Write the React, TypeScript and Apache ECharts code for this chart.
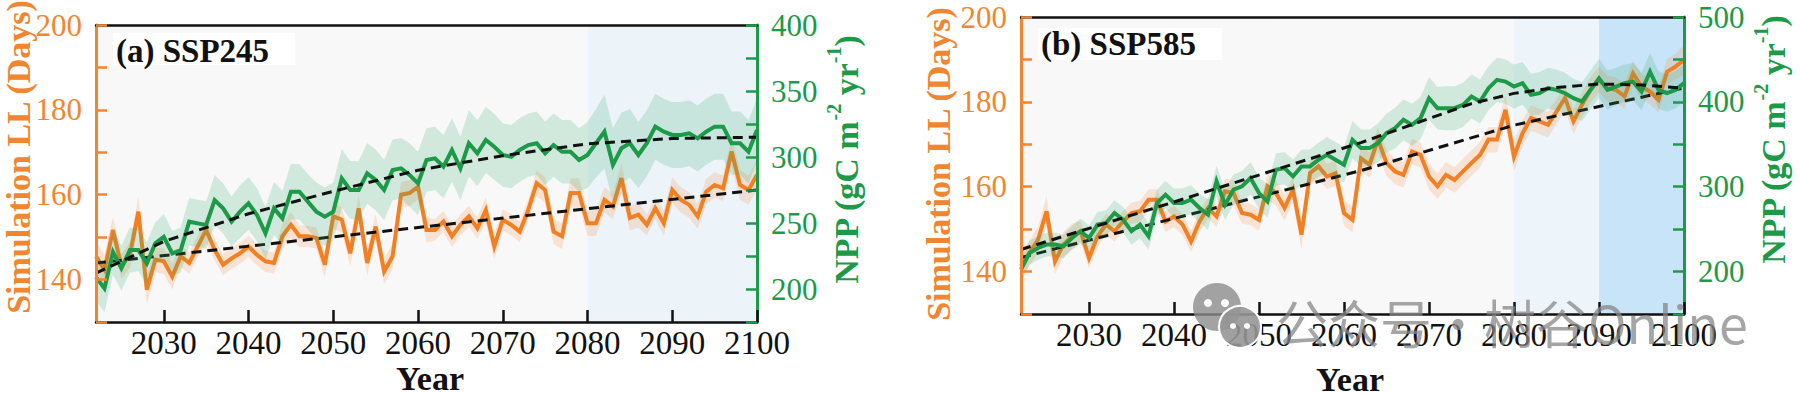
import React, { useEffect, useRef } from 'react';
import * as echarts from 'echarts';

// ---------------- data ----------------
const YEARS = [
  2022, 2023, 2024, 2025, 2026, 2027, 2028, 2029, 2030, 2031,
  2032, 2033, 2034, 2035, 2036, 2037, 2038, 2039, 2040, 2041,
  2042, 2043, 2044, 2045, 2046, 2047, 2048, 2049, 2050, 2051,
  2052, 2053, 2054, 2055, 2056, 2057, 2058, 2059, 2060, 2061,
  2062, 2063, 2064, 2065, 2066, 2067, 2068, 2069, 2070, 2071,
  2072, 2073, 2074, 2075, 2076, 2077, 2078, 2079, 2080, 2081,
  2082, 2083, 2084, 2085, 2086, 2087, 2088, 2089, 2090, 2091,
  2092, 2093, 2094, 2095, 2096, 2097, 2098, 2099, 2100,
];

const X_TICKS = [2030, 2040, 2050, 2060, 2070, 2080, 2090, 2100];

// (a) SSP245 — simulated LL (days)
const A_LL = [
  145.5, 142.3, 151.7, 143.1, 145.8, 156.0, 137.6, 144.7, 144.3, 140.7,
  145.5, 143.9, 147.8, 151.7, 147.0, 143.5, 145.0, 146.2, 147.8, 145.8,
  144.3, 143.9, 150.2, 152.9, 150.2, 150.2, 149.8, 143.5, 154.9, 154.1,
  146.2, 156.8, 143.9, 152.5, 141.9, 145.5, 160.0, 160.4, 161.9, 151.7,
  151.7, 153.7, 150.2, 152.9, 154.9, 152.1, 156.4, 147.8, 154.1, 152.9,
  151.3, 156.4, 162.7, 161.1, 151.3, 150.2, 160.4, 160.4, 153.3, 153.3,
  158.8, 157.2, 163.9, 154.5, 155.3, 152.9, 156.8, 153.3, 161.1, 158.8,
  157.6, 154.9, 160.7, 162.3, 161.5, 170.2, 162.3, 161.1, 164.7,
];
const A_LL_SPREAD = [
  3.5, 3.5, 3, 3, 3, 3.5, 3.5, 3, 3, 3,
  2.5, 2.5, 2.5, 3, 2.5, 2.5, 2.5, 2.5, 2.5, 2.5,
  2.5, 2.5, 3, 3, 2.5, 2.5, 2.5, 3, 3, 3,
  3, 3, 3, 3, 3, 3, 3, 3, 3, 3,
  2.5, 2.5, 2.5, 2.5, 2.5, 2.5, 3, 3, 2.5, 2.5,
  2.5, 2.5, 3, 3, 3, 3, 3.5, 3.5, 3, 3,
  3, 3, 3.5, 3, 3, 2.5, 2.5, 3, 3, 3,
  3, 3, 3, 3, 3, 3.5, 3.5, 3.5, 3.5,
];
// (a) SSP245 — NPP (gC m-2 yr-1)
const A_NPP = [
  209, 200.5, 228, 215.7, 229.5, 229.5, 219.4, 234.6, 239.6, 227,
  229.5, 251, 249.7, 248.5, 267.4, 261.1, 251, 258.6, 264.9, 256.1,
  242.2, 261.1, 253.5, 273.7, 273.7, 266.2, 258.6, 254.8, 258.6, 283.8,
  275, 275, 287.6, 282.6, 275, 290.2, 291.4, 286.4, 280, 297.7,
  299, 292.7, 305.3, 291.4, 310.4, 302.8, 312.9, 307.8, 301.5, 300.2,
  305.3, 309, 310.4, 302.8, 309, 304, 304, 297.7, 301.5, 310.4,
  319.2, 294, 306.6, 310.4, 301.5, 310.4, 323, 319.2, 316.7, 316.7,
  317.9, 314.1, 319.2, 323, 323, 310.4, 310.4, 304, 320.5,
];
const A_NPP_SPREAD = [
  18, 18, 17, 17, 17, 16, 16, 16, 17, 17,
  17, 18, 18, 18, 19, 19, 19, 20, 20, 20,
  20, 20, 21, 21, 21, 21, 22, 22, 22, 22,
  22, 22, 23, 23, 23, 23, 23, 24, 24, 24,
  24, 24, 24, 24, 25, 25, 25, 25, 24, 24,
  24, 24, 24, 24, 24, 24, 24, 24, 25, 26,
  28, 28, 27, 26, 25, 25, 25, 25, 25, 25,
  25, 25, 25, 25, 25, 24, 24, 24, 24,
];
const A_LL_TREND_YEARS = [2022, 2100];
const A_LL_TREND = [143.9, 161.1];
const A_NPP_TREND_YEARS = [2022, 2030, 2040, 2050, 2060, 2070, 2080, 2090, 2100];
const A_NPP_TREND = [212, 236, 257, 274, 290, 301, 310, 314, 315];

// (b) SSP585 — simulated LL (days)
const B_LL = [
  141.3, 144.4, 147.5, 154.2, 142.4, 146.4, 148.3, 149.5, 143.2, 148.3,
  151.1, 149.5, 151.8, 153.8, 154.2, 156.9, 156.9, 151.8, 153.0, 151.1,
  147.1, 151.8, 155.0, 153.0, 158.9, 158.5, 153.8, 153.4, 152.2, 160.1,
  158.5, 155.0, 159.3, 148.7, 163.2, 164.8, 162.4, 163.2, 153.8, 152.2,
  166.7, 165.2, 171.1, 165.6, 163.6, 162.8, 168.3, 167.5, 162.4, 160.1,
  162.8, 161.6, 163.6, 165.6, 167.5, 171.1, 171.1, 178.1, 167.1, 172.6,
  176.2, 175.4, 174.6, 177.7, 180.9, 175.4, 179.3, 182.8, 185.2, 183.2,
  182.8, 181.3, 186.7, 183.6, 182.4, 180.5, 187.1, 188.3, 189.9,
];
const B_LL_SPREAD = [
  3, 3, 3, 3.5, 3, 3, 3, 2.5, 2.5, 2.5,
  2.5, 2.5, 2.5, 2.5, 2.5, 2.5, 2.5, 2.5, 2.5, 2.5,
  2.5, 2.5, 2.5, 2.5, 3, 3, 2.5, 2.5, 2.5, 3,
  3, 3, 3, 3.5, 3, 3, 3, 3, 3, 3,
  3, 3, 3, 3, 3, 3, 3, 3, 3, 3,
  3, 3, 3, 3, 3, 3, 3, 3.5, 3.5, 3,
  3, 3, 3, 3, 3, 3, 3, 3, 3, 3,
  3, 3, 3, 3, 3, 3, 3, 3, 3.5,
];
// (b) SSP585 — NPP (gC m-2 yr-1)
const B_NPP = [
  202.4, 222, 227.8, 231.8, 231.8, 229.8, 239.6, 247.5, 239.6, 255.3,
  257.3, 269, 261.2, 247.5, 255.3, 241.6, 280.8, 290.6, 280.8, 280.8,
  284.7, 274.9, 267.1, 306.3, 278.8, 296.5, 300.4, 310.2, 292.5, 282.7,
  320, 322, 312.2, 323.9, 323.9, 331.8, 337.6, 331.8, 325.9, 355.3,
  345.5, 345.5, 351.4, 363.1, 369, 378.8, 372.9, 380.8, 404.3, 392.5,
  392.5, 392.5, 396.5, 406.3, 400.4, 416.1, 425.9, 423.9, 418, 422,
  408.2, 410.2, 416.1, 414.1, 410.2, 404.3, 400.4, 414.1, 427.8, 414.1,
  418, 422, 423.9, 412.2, 435.7, 414.1, 410.2, 414.1, 422,
];
const B_NPP_SPREAD = [
  14, 14, 14, 14, 14, 14, 14, 15, 15, 15,
  15, 15, 15, 16, 16, 16, 16, 16, 17, 17,
  17, 17, 18, 18, 18, 18, 18, 19, 19, 19,
  19, 19, 20, 20, 20, 20, 21, 21, 21, 22,
  22, 22, 23, 23, 24, 24, 25, 25, 25, 25,
  26, 26, 26, 26, 26, 26, 26, 26, 26, 25,
  25, 25, 24, 24, 24, 23, 23, 23, 23, 23,
  22, 22, 22, 22, 22, 22, 22, 22, 22,
];
const B_LL_TREND_YEARS = [2022, 2062, 2080, 2100];
const B_LL_TREND = [143.3, 163.8, 174.5, 183.3];
const B_NPP_TREND_YEARS = [2022, 2040, 2062, 2075, 2080, 2085, 2090, 2095, 2100];
const B_NPP_TREND = [226, 282, 352, 398, 410, 417, 421, 420, 416];

// ---------------- styles ----------------
const SERIF = 'Liberation Serif';
const CJK = 'Noto Sans CJK SC';
const ORANGE = '#F28022';
const ORANGE_TEXT = '#F08630';
const GREEN = '#1C9A48';
const ORANGE_BAND = 'rgba(245,150,80,0.22)';
const GREEN_BAND = 'rgba(55,168,110,0.20)';
const DARK = '#111111';

const pairs = (xs: number[], ys: number[]) => xs.map((x, i) => [x, ys[i]]);

function bandSeries(vals: number[], spread: number[], xi: number, yi: number, color: string, z: number) {
  const data = YEARS.map((y, i) => [y, vals[i] - spread[i], vals[i] + spread[i]]);
  return {
    type: 'custom',
    xAxisIndex: xi,
    yAxisIndex: yi,
    z,
    silent: true,
    clip: true,
    data,
    encode: { x: 0, y: [1, 2] },
    renderItem: (params: any, api: any) => {
      if (params.dataIndex !== 0) return null;
      const upper = data.map((d) => api.coord([d[0], d[2]]));
      const lower = data.map((d) => api.coord([d[0], d[1]])).reverse();
      return {
        type: 'polygon',
        shape: { points: upper.concat(lower) },
        style: { fill: color },
      };
    },
  };
}

function lineSeries(xs: number[], vals: number[], xi: number, yi: number, color: string, z: number) {
  return {
    type: 'line',
    xAxisIndex: xi,
    yAxisIndex: yi,
    z,
    silent: true,
    data: pairs(xs, vals),
    showSymbol: false,
    symbol: 'none',
    lineStyle: { color, width: 4, join: 'miter' },
  };
}

function trendSeries(xs: number[], vals: number[], xi: number, yi: number, z: number) {
  return {
    type: 'line',
    xAxisIndex: xi,
    yAxisIndex: yi,
    z,
    silent: true,
    data: pairs(xs, vals),
    showSymbol: false,
    symbol: 'none',
    lineStyle: { color: DARK, width: 3, type: [10, 6] },
  };
}

function shadeSeries(xi: number, yi: number, areas: any[]) {
  return {
    type: 'line',
    xAxisIndex: xi,
    yAxisIndex: yi,
    z: 1,
    silent: true,
    data: pairs(YEARS, A_LL),
    showSymbol: false,
    symbol: 'none',
    lineStyle: { opacity: 0 },
    markArea: { silent: true, label: { show: false }, data: areas },
  };
}

function xBottom(gi: number) {
  return {
    type: 'value', gridIndex: gi, position: 'bottom', min: 2022, max: 2100, z: 8,
    axisLine: { show: true, onZero: false, lineStyle: { color: DARK, width: 2.5 } },
    axisTick: { show: true, inside: true, length: 12, customValues: X_TICKS, lineStyle: { color: DARK, width: 2.5 } },
    axisLabel: {
      show: true, customValues: X_TICKS, color: DARK, fontSize: 33, fontFamily: SERIF, margin: 4,
      formatter: (v: number) => String(Math.round(v)),
    },
    splitLine: { show: false },
  };
}
function xTop(gi: number) {
  return {
    type: 'value', gridIndex: gi, position: 'top', min: 2022, max: 2100, z: 8,
    axisLine: { show: true, onZero: false, lineStyle: { color: DARK, width: 2.5 } },
    axisTick: { show: false }, axisLabel: { show: false }, splitLine: { show: false },
  };
}
function yAxis(gi: number, pos: string, min: number, max: number, interval: number, labelStep: number, color: string) {
  return {
    type: 'value', gridIndex: gi, position: pos, min, max, interval, z: 8,
    axisLine: { show: true, onZero: false, lineStyle: { color, width: 3 } },
    axisTick: { show: true, inside: true, length: 11, lineStyle: { color, width: 2.5 } },
    axisLabel: {
      show: true, color, fontSize: 31, fontFamily: SERIF, margin: 14,
      formatter: (v: number) => (Math.round(v) % labelStep === 0 ? String(Math.round(v)) : ''),
    },
    splitLine: { show: false },
  };
}

function rotatedTitle(x: number, y: number, text: string, color: string) {
  return {
    type: 'text', x, y, rotation: Math.PI / 2, silent: true,
    style: { text, fill: color, fontSize: 34, fontWeight: 'bold', fontFamily: SERIF, align: 'center', verticalAlign: 'middle' },
  };
}
function nppTitle(x: number, y: number) {
  return {
    type: 'text', x, y, rotation: Math.PI / 2, silent: true,
    style: {
      text: '{m|NPP (gC m}{s|-2}{m| yr}{s|-1}{m|)}',
      fill: GREEN, fontFamily: SERIF, fontWeight: 'bold', fontSize: 34, align: 'center', verticalAlign: 'middle',
      rich: {
        m: { fontSize: 34, fontWeight: 'bold', fontFamily: SERIF, fill: GREEN, lineHeight: 44 },
        s: { fontSize: 20, fontWeight: 'bold', fontFamily: SERIF, fill: GREEN, lineHeight: 20, verticalAlign: 'top' },
      },
    },
  };
}

export default function App() {
  const ref = useRef<HTMLDivElement>(null);
  useEffect(() => {
    if (!ref.current) return;
    const chart = echarts.init(ref.current, undefined, { renderer: 'svg' });
    const option: any = {
      animation: false,
      backgroundColor: '#ffffff',
      textStyle: { fontFamily: SERIF },
      grid: [
        { left: 96, top: 25, width: 661, height: 297, containLabel: false, outerBoundsMode: 'none' },
        { left: 1021, top: 17, width: 663, height: 297, containLabel: false, outerBoundsMode: 'none' },
      ],
      xAxis: [xBottom(0), xTop(0), xBottom(1), xTop(1)],
      yAxis: [
        yAxis(0, 'left', 130, 200, 10, 20, ORANGE_TEXT),
        yAxis(0, 'right', 175, 400, 25, 50, GREEN),
        yAxis(1, 'left', 130, 200, 10, 20, ORANGE_TEXT),
        yAxis(1, 'right', 150, 500, 50, 100, GREEN),
      ],
      series: [
        shadeSeries(0, 0, [
          [{ xAxis: 2022, itemStyle: { color: '#F8F8F8' } }, { xAxis: 2080 }],
          [{ xAxis: 2080, itemStyle: { color: '#ECF4F9' } }, { xAxis: 2100 }],
        ]),
        bandSeries(A_LL, A_LL_SPREAD, 0, 0, ORANGE_BAND, 2),
        lineSeries(YEARS, A_LL, 0, 0, ORANGE, 3),
        trendSeries(A_LL_TREND_YEARS, A_LL_TREND, 0, 0, 4),
        bandSeries(A_NPP, A_NPP_SPREAD, 0, 1, GREEN_BAND, 5),
        lineSeries(YEARS, A_NPP, 0, 1, GREEN, 6),
        trendSeries(A_NPP_TREND_YEARS, A_NPP_TREND, 0, 1, 7),

        shadeSeries(2, 2, [
          [{ xAxis: 2022, itemStyle: { color: '#F8F8F8' } }, { xAxis: 2080 }],
          [{ xAxis: 2080, itemStyle: { color: '#EDF5FA' } }, { xAxis: 2090 }],
          [{ xAxis: 2090, itemStyle: { color: '#C7E4F8' } }, { xAxis: 2100 }],
        ]),
        bandSeries(B_LL, B_LL_SPREAD, 2, 2, ORANGE_BAND, 2),
        lineSeries(YEARS, B_LL, 2, 2, ORANGE, 3),
        trendSeries(B_LL_TREND_YEARS, B_LL_TREND, 2, 2, 4),
        bandSeries(B_NPP, B_NPP_SPREAD, 2, 3, GREEN_BAND, 5),
        lineSeries(YEARS, B_NPP, 2, 3, GREEN, 6),
        trendSeries(B_NPP_TREND_YEARS, B_NPP_TREND, 2, 3, 7),
      ],
      graphic: [
        // panel titles
        { type: 'rect', shape: { x: 113, y: 33, width: 182, height: 32 }, style: { fill: '#ffffff' }, z: 20, silent: true },
        { type: 'text', x: 116, y: 51, z: 21, silent: true,
          style: { text: '(a) SSP245', fill: DARK, fontSize: 33, fontWeight: 'bold', fontFamily: SERIF, align: 'left', verticalAlign: 'middle' } },
        { type: 'rect', shape: { x: 1038, y: 28, width: 184, height: 32 }, style: { fill: '#ffffff' }, z: 20, silent: true },
        { type: 'text', x: 1041, y: 44, z: 21, silent: true,
          style: { text: '(b) SSP585', fill: DARK, fontSize: 33, fontWeight: 'bold', fontFamily: SERIF, align: 'left', verticalAlign: 'middle' } },
        // axis titles
        { ...rotatedTitle(18, 157, 'Simulation LL (Days)', ORANGE_TEXT), z: 21 },
        { ...rotatedTitle(938, 164, 'Simulation LL (Days)', ORANGE_TEXT), z: 21 },
        { ...nppTitle(846, 160), z: 21 },
        { ...nppTitle(1773, 140), z: 21 },
        { type: 'text', x: 430, y: 378, z: 21, silent: true,
          style: { text: 'Year', fill: DARK, fontSize: 34, fontWeight: 'bold', fontFamily: SERIF, align: 'center', verticalAlign: 'middle' } },
        { type: 'text', x: 1350, y: 379, z: 21, silent: true,
          style: { text: 'Year', fill: DARK, fontSize: 34, fontWeight: 'bold', fontFamily: SERIF, align: 'center', verticalAlign: 'middle' } },
        // watermark
        { type: 'circle', shape: { cx: 1217, cy: 307, r: 24 }, style: { fill: 'rgba(140,140,140,0.8)' }, z: 30, silent: true },
        { type: 'circle', shape: { cx: 1240, cy: 327, r: 21 }, style: { fill: 'rgba(150,150,150,0.9)', stroke: '#ffffff', lineWidth: 2 }, z: 31, silent: true },
        { type: 'circle', shape: { cx: 1208, cy: 303, r: 4 }, style: { fill: '#ffffff' }, z: 32, silent: true },
        { type: 'circle', shape: { cx: 1225, cy: 303, r: 4 }, style: { fill: '#ffffff' }, z: 32, silent: true },
        { type: 'circle', shape: { cx: 1233, cy: 326, r: 3 }, style: { fill: '#ffffff' }, z: 32, silent: true },
        { type: 'circle', shape: { cx: 1247, cy: 326, r: 3 }, style: { fill: '#ffffff' }, z: 32, silent: true },
        { type: 'text', x: 1276, y: 321, z: 30, silent: true,
          style: { text: '公众号・树谷Online', fill: 'rgba(135,135,135,0.75)', fontSize: 52, fontFamily: CJK, align: 'left', verticalAlign: 'middle' } },
      ],
    };
    chart.setOption(option);
    return () => chart.dispose();
  }, []);
  return <div ref={ref} style={{ position: 'absolute', left: 0, top: 0, width: 1800, height: 393 }} />;
}
